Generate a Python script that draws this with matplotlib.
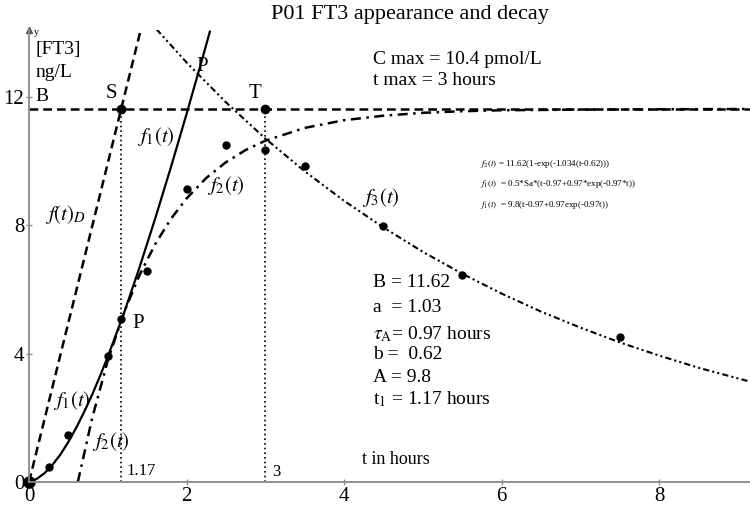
import matplotlib.pyplot as plt
import numpy as np

plt.rcParams['font.family'] = ['Liberation Serif', 'DejaVu Serif']
plt.rcParams['mathtext.fontset'] = 'stix'

# measured FT3 concentrations (hours, ng/L)
t_obs = [0, 0.25, 0.5, 1.0, 1.5, 2.0, 2.5, 3.0, 3.5, 4.5, 5.5, 7.5]
c_obs = [0, 0.47, 1.46, 3.93, 6.57, 9.13, 10.5, 10.34, 9.84, 7.97, 6.45, 4.52]

# f1(t) appearance curve
t_f1 = [0, 0.1, 0.2, 0.3, 0.4, 0.5, 0.6, 0.7, 0.8, 0.9, 1.0, 1.2, 1.4, 1.6, 1.8, 2.0, 2.2, 2.3]
c_f1 = [0, 0.10, 0.28, 0.54, 0.86, 1.25, 1.69, 2.18, 2.71, 3.29, 3.90, 5.22, 6.66, 8.19, 9.79, 11.46, 13.18, 14.06]

# f2(t) curve
t_f2 = [0.62, 0.8, 1.0, 1.2, 1.4, 1.6, 1.8, 2.0, 2.25, 2.5, 2.75, 3.0, 3.5, 4.0, 4.5, 5.0, 5.5, 6.0, 7.0, 8.0, 9.15]
c_f2 = [0, 1.97, 3.78, 5.24, 6.43, 7.40, 8.19, 8.83, 9.47, 9.96, 10.34, 10.63, 11.03, 11.27, 11.41, 11.50, 11.55, 11.58, 11.60, 11.61, 11.62]

# f3(t) decay curve
t_f3 = [1.62, 2.0, 2.5, 3.0, 3.5, 4.0, 4.5, 5.0, 5.5, 6.0, 6.5, 7.0, 7.5, 8.0, 8.5, 9.15]
c_f3 = [14.1, 13.07, 11.83, 10.70, 9.68, 8.76, 7.93, 7.17, 6.49, 5.87, 5.31, 4.81, 4.35, 3.94, 3.56, 3.13]

# f(t)D line
t_fd = [0, 1.42]
c_fd = [0, 14.1]

B = 11.62
t_S = 1.17
t_T = 3.0
c_P = 5.08

fig = plt.figure(figsize=(7.5, 5.12), dpi=100)
ax = fig.add_axes([29 / 750, 30 / 512, 721 / 750, 452 / 512])
ax.set_xlim(0, 9.155)
ax.set_ylim(0, 14.08)

# curves
ax.plot(t_f1, c_f1, color='black', lw=1.6, solid_capstyle='butt')
ax.plot(t_fd, c_fd, color='black', lw=1.8, dashes=(3.5, 2))
ax.plot(t_f2, c_f2, color='black', lw=1.8, dashes=(4, 2.2, 1, 2.2))
ax.plot(t_f3, c_f3, color='black', lw=1.5, dashes=(3, 1.5, 1, 1.5, 1, 1.5))
ax.axhline(B, color='black', lw=1.8, dashes=(3.5, 2))
ax.plot([t_S, t_S], [0, B], color='black', lw=1.2, dashes=(1, 1.8))
ax.plot([t_T, t_T], [0, B], color='black', lw=1.2, dashes=(1, 1.8))

# points
ax.plot(t_obs, c_obs, 'o', color='black', ms=5, clip_on=False)
ax.plot([t_S, t_T], [B, B], 'o', color='black', ms=6)
ax.plot([t_S], [c_P], 'o', color='black', ms=5)
ax.plot([0], [0], 'o', color='black', ms=8, clip_on=False)

# axes look
for s in ['top', 'right']:
    ax.spines[s].set_visible(False)
for s in ['left', 'bottom']:
    ax.spines[s].set_color('#8a8a8a')
    ax.spines[s].set_linewidth(1.3)
ax.set_xticks([0, 2, 4, 6, 8])
ax.set_yticks([0, 4, 8, 12])
ax.tick_params(direction='inout', length=5, width=1, color='#8a8a8a',
               labelsize=15, pad=1)
ax.plot([0], [14.08], marker='^', color='#555555', ms=5, clip_on=False)

# text
fig.text(410 / 750, 1 - 15 / 512, 'P01 FT3 appearance and decay',
         ha='center', va='center', fontsize=16)
ax.text(4.37, 13.15, 'C max = 10.4 pmol/L', fontsize=14, va='center')
ax.text(4.37, 12.52, 't max = 3 hours', fontsize=14, va='center')

ax.text(0.06, 14.0, 'y', fontsize=7, va='center')
ax.text(0.08, 13.46, '[FT3]', fontsize=14, va='center')
ax.text(0.08, 12.77, 'ng/L', fontsize=14, va='center')
ax.text(0.08, 12.0, 'B', fontsize=14, va='center')

ax.text(1.04, 12.09, 'S', fontsize=15, ha='center', va='center')
ax.text(2.87, 12.09, 'T', fontsize=15, ha='center', va='center')
ax.text(2.20, 12.93, 'P', fontsize=15, ha='center', va='center')
ax.text(1.31, 4.95, 'P', fontsize=15, va='center')

ax.text(1.37, 10.75, r'$f_1(t)$', fontsize=15, va='center')
ax.text(2.26, 9.25, r'$f_2(t)$', fontsize=15, va='center')
ax.text(4.23, 8.85, r'$f_3(t)$', fontsize=15, va='center')
ax.text(0.20, 8.32, r'$f(t)_D$', fontsize=15, va='center')
ax.text(0.30, 2.55, r'$f_1(t)$', fontsize=15, va='center')
ax.text(0.80, 1.25, r'$f_2(t)$', fontsize=15, va='center')

ax.text(1.24, 0.34, '1.17', fontsize=12, va='center')
ax.text(3.09, 0.31, '3', fontsize=12, va='center')
ax.text(4.23, 0.69, 't in hours', fontsize=13, va='center')

ax.text(5.73, 9.92, r'$f_2(t)$ = 11.62(1-exp(-1.034(t-0.62)))', fontsize=6.5, va='center')
ax.text(5.73, 9.27, r'$f_1(t)$  = 0.5*Sa*(t-0.97+0.97*exp(-0.97*t))', fontsize=6.5, va='center')
ax.text(5.73, 8.64, r'$f_1(t)$  = 9.8(t-0.97+0.97exp(-0.97t))', fontsize=6.5, va='center')

ax.text(4.37, 6.20, 'B = 11.62', fontsize=14, va='center')
ax.text(4.37, 5.45, 'a  = 1.03', fontsize=14, va='center')
ax.text(4.37, 4.61, r'$\tau_{\mathrm{A}}$= 0.97 hours', fontsize=14, va='center')
ax.text(4.37, 3.96, 'b =  0.62', fontsize=14, va='center')
ax.text(4.37, 3.27, 'A = 9.8', fontsize=14, va='center')
ax.text(4.37, 2.59, r't$_1$ = 1.17 hours', fontsize=14, va='center')

fig.savefig('out.png', dpi=100)
